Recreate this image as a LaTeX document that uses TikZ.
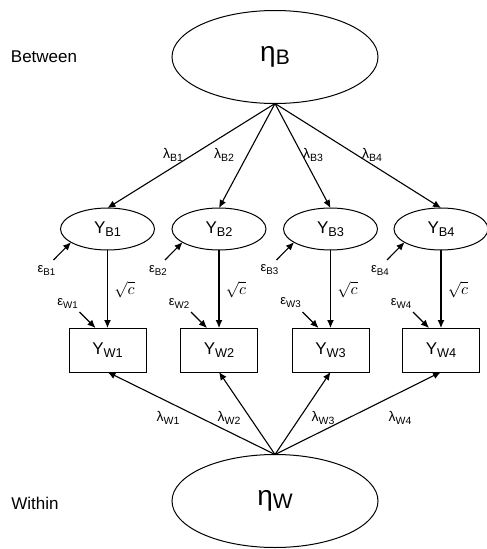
\documentclass[tikz,border=0pt]{standalone}
\usepackage{fontspec}
\setmainfont{Liberation Sans}
\usetikzlibrary{shapes.geometric,arrows.meta}
\newcommand{\fsz}[1]{\fontsize{#1}{#1}\selectfont}
\newcommand{\lab}[3]{{\fsz{#1}#2}\raisebox{-0.3em}{\fsz{#1}\scalebox{0.75}{#3}}}
\begin{document}
\begin{tikzpicture}[x=1pt,y=-1pt,
  every node/.style={inner sep=0pt, outer sep=0pt},
  latent/.style={draw, ellipse, line width=1pt},
  big/.style={latent, minimum width=206pt, minimum height=93pt},
  small/.style={latent, minimum width=94pt, minimum height=42pt},
  obs/.style={draw, rectangle, line width=1pt, minimum width=77pt, minimum height=44pt},
  arr/.style={line width=1.1pt, -{Latex[length=8pt,width=7pt]}}]
\useasboundingbox (0,0) rectangle (487,549);
\node[big] (etaB) at (275,57) {\lab{28}{η}{B}};
\node[big] (etaW) at (275,501) {\lab{28}{η}{W}};
\node (between) at (44,57) {\fsz{17}Between};
\node (within) at (35,503) {\fsz{17}Within};
\foreach \i/\x/\lx/\wx in {1/107.5/173/168, 2/219/224/229, 3/330.5/313/323, 4/441/372/400} {
  \node[small] (yb\i) at (\x,229) {\lab{17}{Y}{B\i}};
  \node[obs] (yw\i) at (\x,350) {\lab{17}{Y}{W\i}};
  \draw[arr] (etaB.south) -- (yb\i.north);
  \draw[arr] (yb\i.south) -- (yw\i.north);
  \draw[arr] (etaW.north) -- (yw\i.south);
  \node (lb\i) at (\lx,155) {\lab{14}{λ}{B\i}};
  \node (lw\i) at (\wx,418) {\lab{14}{λ}{W\i}};
  \node (sc\i) at (\x+17,290) {\scalebox{1.6}{$\sqrt{c}$}};
  \node (eb\i) at (\x-61,270) {\lab{13}{ε}{B\i}};
  \coordinate (ebs\i) at (\x-54,260);
  \draw[arr] (ebs\i) -- (yb\i.200);
  \node (ew\i) at (\x-40,303) {\lab{13}{ε}{W\i}};
  \coordinate (ews\i) at (\x-28,312);
  \draw[arr] (ews\i) -- ([xshift=-12pt]yw\i.north);
}
\end{tikzpicture}
\end{document}
